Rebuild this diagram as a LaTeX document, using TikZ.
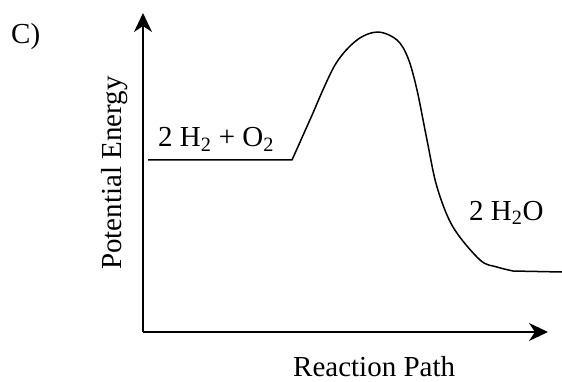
\documentclass[tikz,border=0pt]{standalone}
\usepackage{fontspec}
\setmainfont{Liberation Serif}
\usetikzlibrary{arrows.meta}
\begin{document}
\begin{tikzpicture}[x=1pt,y=-1pt,
  lbl/.style={inner sep=0pt,anchor=base west,font=\fontsize{29}{32}\selectfont},
  axis/.style={line width=1.5pt,-{Stealth[length=19pt,width=18pt,inset=6pt]}},
  curve/.style={line width=1.5pt,line join=round}]
\useasboundingbox (0,0) rectangle (562,382);
\coordinate (O) at (143,332);
\coordinate (ytip) at (143,13);
\coordinate (xtip) at (548,332);
\draw[axis] (O) -- (ytip);
\draw[axis] (O) -- (xtip);
\coordinate (r0) at (148,160);
\coordinate (r1) at (292,160);
\draw[curve] (r0) -- (r1) -- (313,113) plot[smooth,tension=0.55] coordinates {(313,113) (335,65) (357,40) (378,32) (397,40) (408,58) (417,90) (427,140) (437,187) (453,227) (480,260) (497,267) (513,271)} -- (562,272);
\node[lbl] (c) at (11,44) {C)};
\node[lbl] (react) at (158,147) {2 H\textsubscript{2} + O\textsubscript{2}};
\node[lbl] (prod) at (469,220) {2 H\textsubscript{2}O};
\node[lbl,text depth=0pt] (xl) at (293,376) {Reaction Path};
\node[lbl,rotate=90] (yl) at (121,270) {Potential Energy};
\end{tikzpicture}
\end{document}
